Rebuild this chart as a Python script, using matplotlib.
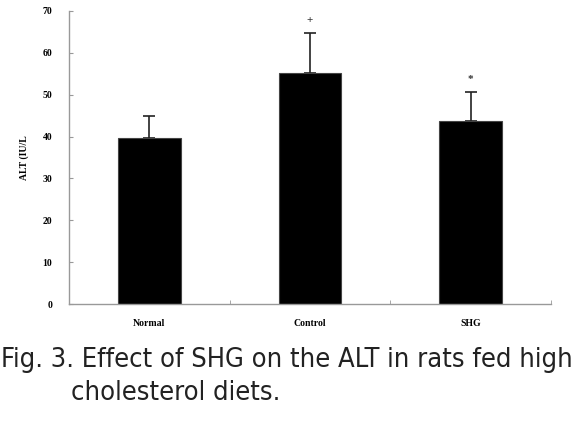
import numpy as np
import matplotlib.pyplot as plt

# data
groups = ['Normal', 'Control', 'SHG']
alt_mean = [39.6, 55.1, 43.7]
alt_sd = [5.3, 9.6, 6.9]
marks = ['', '+', '*']

plt.rcParams['font.family'] = ['Liberation Serif', 'DejaVu Serif']

fig = plt.figure(figsize=(5.81, 4.32), dpi=100)
ax = fig.add_axes([0.119, 0.296, 0.829, 0.679])

x = np.arange(len(groups))
ax.bar(x, alt_mean, width=0.39, color='black', edgecolor='#444444', linewidth=0.8, zorder=2)
ax.errorbar(x, alt_mean, yerr=[np.zeros(len(x)), alt_sd], fmt='none',
            ecolor='#222222', elinewidth=1.2, capsize=4, capthick=1.2, zorder=1)

for xi, m, s, mk in zip(x, alt_mean, alt_sd, marks):
    if mk:
        ax.text(xi, m + s + 3.0, mk, ha='center', va='center', fontsize=8,
                fontweight='bold', color='#333333')

ax.set_xlim(-0.5, 2.5)
ax.set_ylim(0, 70)
ax.set_yticks(np.arange(0, 71, 10))
ax.set_xticks(x)
ax.set_xticklabels(groups, fontsize=7, fontweight='bold')
ax.set_xticks([0.5, 1.5, 2.5], minor=True)
ax.tick_params(axis='x', which='major', length=0, pad=11)
ax.tick_params(axis='x', which='minor', length=3, direction='in', color='#999999')
ax.tick_params(axis='y', length=3, direction='in', color='#999999', labelsize=7, pad=12)
for lab in ax.get_yticklabels():
    lab.set_fontweight('bold')
ax.set_ylabel('ALT (IU/L', fontsize=7, fontweight='bold', labelpad=10)

for s in ['top', 'right']:
    ax.spines[s].set_visible(False)
for s in ['left', 'bottom']:
    ax.spines[s].set_color('#999999')
    ax.spines[s].set_linewidth(1.0)

# caption in a narrow sans face
cap_font = ['DejaVu Sans']
fig.text(0.002, 1 - 367 / 432, 'Fig. 3. Effect of SHG on the ALT in rats fed high',
         fontsize=19.5, family=cap_font, fontstretch='condensed', color='#222222', va='baseline')
fig.text(0.122, 1 - 400 / 432, 'cholesterol diets.',
         fontsize=19.5, family=cap_font, fontstretch='condensed', color='#222222', va='baseline')

fig.savefig('out.png', dpi=100)
